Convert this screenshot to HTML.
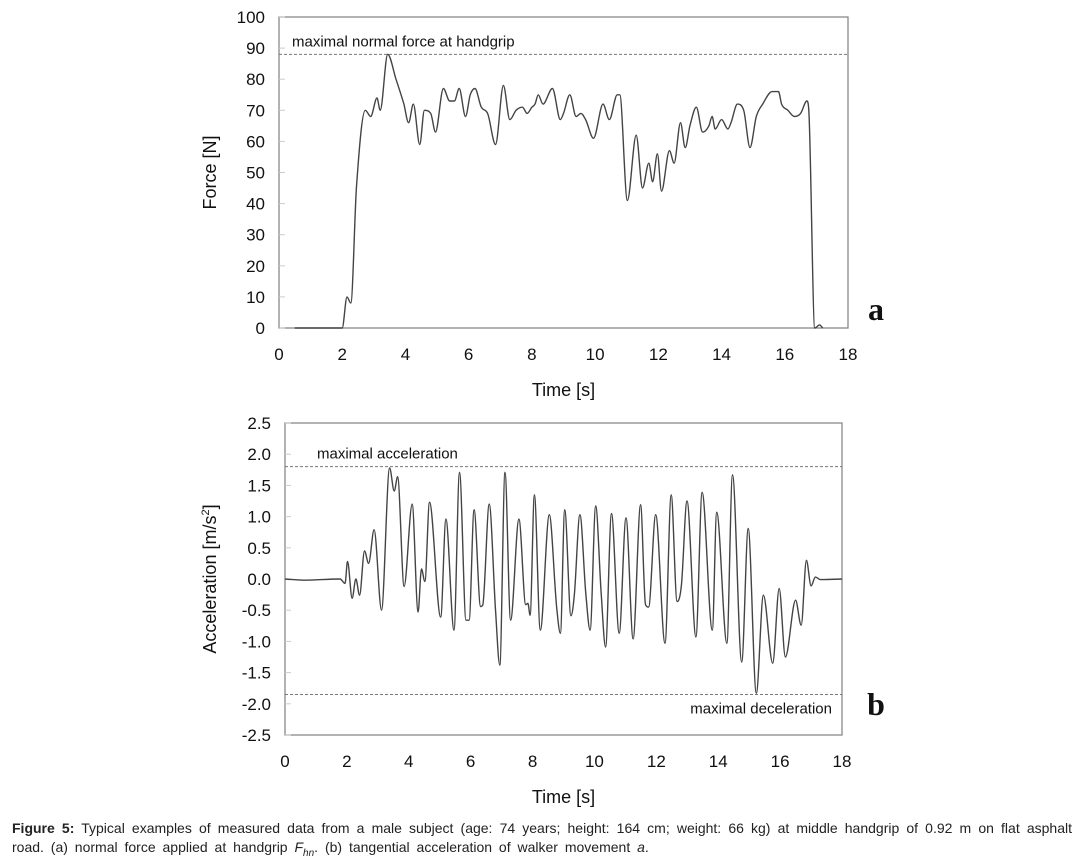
<!DOCTYPE html>
<html><head><meta charset="utf-8"><style>
body{margin:0;background:#fff;width:1080px;height:863px;overflow:hidden;font-family:"Liberation Sans",sans-serif}
#cap{position:absolute;left:12px;top:819px;width:1060px;font-size:14px;word-spacing:3px;line-height:19px;color:#222;text-align:justify}
</style></head><body>
<svg id="chart" width="1080" height="815" style="position:absolute;left:0;top:0" font-family="Liberation Sans, sans-serif"></svg>
<div id="cap"><b>Figure 5:</b> Typical examples of measured data from a male subject (age: 74 years; height: 164 cm; weight: 66 kg) at middle handgrip of 0.92 m on flat asphalt road. (a) normal force applied at handgrip <i>F<sub style="font-size:10px">hn</sub></i>. (b) tangential acceleration of walker movement <i>a</i>.</div>
<script>
const forceT=[0.5,2.0,2.15,2.27,2.45,2.73,2.9,3.1,3.2,3.44,3.7,3.95,4.1,4.25,4.45,4.6,4.8,4.95,5.2,5.4,5.55,5.7,5.9,6.05,6.2,6.4,6.6,6.85,7.1,7.3,7.5,7.7,7.85,8.0,8.1,8.2,8.35,8.65,8.9,9.0,9.2,9.4,9.55,9.7,9.95,10.25,10.45,10.7,10.78,11.02,11.3,11.5,11.7,11.82,11.97,12.1,12.35,12.5,12.7,12.85,13.0,13.2,13.4,13.6,13.7,13.8,14.0,14.2,14.3,14.5,14.7,14.9,15.1,15.3,15.6,15.8,15.9,16.1,16.3,16.5,16.7,16.76,16.95,17.1,17.2];
const forceV=[0,0,10,8,45,70,68,74,70,88,80,72,66,72,59,70,69,63,77,73,73,77,68,75,77,71,69,59,78,67,70,71,69,71,72,75,72,77,67,69,75,68,69,67,61,72,67,75,75,41,62,45,53,47,56,44,57,53,66,58,65,71,63,65,68,64,67,64,66,72,70,58,68,72,76,76,72,70,68,69,73,70,0,1,0];
const accT=[0,0.6,1.78,1.94,2.02,2.17,2.29,2.41,2.57,2.7,2.88,3.12,3.38,3.53,3.64,3.85,4.11,4.3,4.41,4.52,4.67,5.03,5.2,5.46,5.64,5.85,5.95,6.11,6.32,6.39,6.6,6.8,6.94,7.11,7.29,7.56,7.78,7.85,7.92,8.06,8.25,8.54,8.78,8.9,9.04,9.24,9.35,9.53,9.72,9.86,10.04,10.22,10.36,10.55,10.8,11.02,11.25,11.49,11.65,11.75,11.98,12.28,12.48,12.67,12.81,12.99,13.28,13.48,13.81,13.95,14.28,14.46,14.76,14.97,15.23,15.46,15.76,15.97,16.17,16.5,16.68,16.85,17.0,17.14,17.3,18];
const accV=[0,-0.02,0,-0.07,0.28,-0.31,0,-0.26,0.45,0.25,0.79,-0.5,1.78,1.41,1.64,-0.12,1.2,-0.53,0.16,-0.04,1.23,-0.61,0.96,-0.82,1.71,-0.66,-0.66,1.11,-0.44,-0.42,1.2,-0.47,-1.38,1.71,-0.66,0.96,-0.41,-0.39,-0.58,1.35,-0.82,1.03,-0.46,-0.87,1.11,-0.59,-0.26,1.03,-0.23,-0.82,1.17,-0.26,-1.09,1.05,-0.87,0.98,-0.96,1.19,-0.41,-0.45,1.03,-1.03,1.35,-0.36,-0.1,1.25,-0.93,1.39,-0.82,1.07,-1.03,1.67,-1.33,0.81,-1.83,-0.26,-1.35,-0.15,-1.25,-0.34,-0.74,0.3,-0.11,0.03,-0.01,0];
const xTicks=[0,2,4,6,8,10,12,14,16,18];
const forceTicks=[0,10,20,30,40,50,60,70,80,90,100];
const accTicks=[-2.5,-2.0,-1.5,-1.0,-0.5,0.0,0.5,1.0,1.5,2.0,2.5];
const NS='http://www.w3.org/2000/svg',svg=document.getElementById('chart');
function mk(tag,attrs,parent){const e=document.createElementNS(NS,tag);for(const k in attrs)e.setAttribute(k,attrs[k]);(parent||svg).appendChild(e);return e;}
function monotone(pts){const n=pts.length,d=[],m=[];for(let i=0;i<n-1;i++)d.push((pts[i+1][1]-pts[i][1])/(pts[i+1][0]-pts[i][0]));
  m[0]=d[0];m[n-1]=d[n-2];for(let i=1;i<n-1;i++)m[i]=(d[i-1]*d[i]<=0)?0:(d[i-1]+d[i])/2;
  for(let i=0;i<n-1;i++){if(d[i]===0){m[i]=0;m[i+1]=0;continue;}const a=m[i]/d[i],b=m[i+1]/d[i],s=a*a+b*b;if(s>9){const t=3/Math.sqrt(s);m[i]=t*a*d[i];m[i+1]=t*b*d[i];}}
  let s='M'+pts[0][0].toFixed(1)+','+pts[0][1].toFixed(1);
  for(let i=0;i<n-1;i++){const h=(pts[i+1][0]-pts[i][0])/3;s+=' C'+(pts[i][0]+h).toFixed(1)+','+(pts[i][1]+m[i]*h).toFixed(1)+' '+(pts[i+1][0]-h).toFixed(1)+','+(pts[i+1][1]-m[i+1]*h).toFixed(1)+' '+pts[i+1][0].toFixed(1)+','+pts[i+1][1].toFixed(1);}
  return s;}
function panel(o){
  const g=mk('g',{});
  const X=t=>o.x0+(t-0)/18*(o.x1-o.x0),Y=v=>o.y0-(v-o.vmin)/(o.vmax-o.vmin)*(o.y0-o.y1);
  const fr=mk('rect',{x:o.x0,y:o.y1,width:o.x1-o.x0,height:o.y0-o.y1,fill:'none',stroke:'#888','stroke-width':1.3},g);
  
  o.yt.forEach(v=>{const t=mk('text',{x:o.x0-14,y:Y(v)+6,'text-anchor':'end','font-size':17,fill:'#111'},g);t.textContent=o.fmt(v);
    const l=mk('line',{x1:o.x0,x2:o.x0+6,y1:Y(v),y2:Y(v),stroke:'#ccc'},g);});
  xTicks.forEach(v=>{const t=mk('text',{x:X(v),y:o.y0+32,'text-anchor':'middle','font-size':17,fill:'#111'},g);t.textContent=v;});
  const xt=mk('text',{x:(o.x0+o.x1)/2,y:o.y0+68,'text-anchor':'middle','font-size':18,fill:'#111'},g);xt.textContent='Time [s]';
  const yt=mk('text',{x:0,y:0,'text-anchor':'middle','font-size':18,fill:'#111',transform:`translate(216,${(o.y0+o.y1)/2}) rotate(-90)`},g);yt.innerHTML=o.ytitle;
  o.refs.forEach(r=>{const l=mk('line',{x1:o.x0,x2:o.x1,y1:Y(r.v),y2:Y(r.v),stroke:'#777','stroke-dasharray':'3,2','stroke-width':1},g);
    const t=mk('text',{x:r.anchor==='end'?o.x1-10:o.x0+r.dx,y:Y(r.v)+r.dy,'text-anchor':r.anchor,'font-size':15,fill:'#111'},g);t.textContent=r.label;});
  const pts=o.t.map((t,i)=>[X(t),Y(o.v[i])]);
  const p=mk('path',{d:monotone(pts),fill:'none',stroke:'#444','stroke-width':1.4},g);
  const lb=mk('text',{x:876,y:o.lby,'text-anchor':'middle','font-size':32,'font-weight':'bold','font-family':'Liberation Serif, serif',fill:'#111'},g);lb.textContent=o.letter;
}
panel({name:'force-chart',x0:279,x1:848,y0:328,y1:17,vmin:0,vmax:100,yt:forceTicks,fmt:v=>v,ytitle:'Force [N]',t:forceT,v:forceV,letter:'a',lby:320,
  refs:[{v:88,label:'maximal normal force at handgrip',anchor:'start',dx:13,dy:-8}]});
panel({name:'acceleration-chart',x0:285,x1:842,y0:735,y1:423,vmin:-2.5,vmax:2.5,yt:accTicks,fmt:v=>v.toFixed(1),ytitle:'Acceleration [m/s<tspan font-size="11" dy="-7">2</tspan><tspan dy="7">]</tspan>',t:accT,v:accV,letter:'b',lby:715,
  refs:[{v:1.8,label:'maximal acceleration',anchor:'start',dx:32,dy:-8},{v:-1.85,label:'maximal deceleration',anchor:'end',dx:0,dy:19}]});
</script>
</body></html>
